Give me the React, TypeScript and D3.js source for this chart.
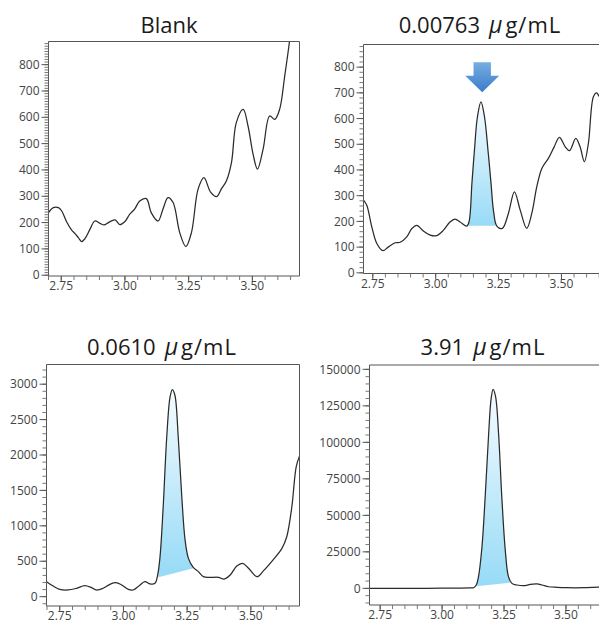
import React from 'react';
import * as d3 from 'd3';

// ---------------- data ----------------
const xTickLabels = ['2.75', '3.00', '3.25', '3.50'];

const blankTimes = [2.700, 2.719, 2.739, 2.752, 2.771, 2.791, 2.804, 2.817, 2.830, 2.843, 2.863, 2.882, 2.902, 2.918, 2.935, 2.961, 2.980, 2.999, 3.019, 3.038, 3.058, 3.084, 3.103, 3.130, 3.149, 3.169, 3.189, 3.215, 3.239, 3.261, 3.287, 3.310, 3.336, 3.360, 3.379, 3.398, 3.418, 3.437, 3.464, 3.483, 3.503, 3.520, 3.542, 3.568, 3.588, 3.607, 3.627, 3.646, 3.659];
const blankSignal = [238, 257, 257, 244, 203, 171, 158, 143, 128, 139, 175, 206, 197, 191, 200, 210, 192, 203, 232, 251, 282, 291, 238, 206, 251, 295, 276, 162, 109, 162, 327, 371, 316, 299, 329, 358, 428, 580, 630, 567, 459, 403, 478, 605, 592, 630, 757, 890, 1000];

const lowTimes = [2.713, 2.726, 2.746, 2.766, 2.790, 2.812, 2.839, 2.859, 2.885, 2.905, 2.925, 2.951, 2.978, 3.004, 3.031, 3.057, 3.077, 3.097, 3.124, 3.133, 3.144, 3.154, 3.166, 3.180, 3.194, 3.208, 3.220, 3.230, 3.243, 3.265, 3.289, 3.313, 3.336, 3.362, 3.382, 3.402, 3.422, 3.448, 3.471, 3.492, 3.515, 3.532, 3.557, 3.574, 3.591, 3.607, 3.627, 3.640, 3.652, 3.670];
const lowSignal = [283, 263, 179, 114, 86, 101, 117, 119, 140, 172, 185, 163, 147, 145, 166, 198, 209, 198, 182, 200, 348, 476, 607, 665, 607, 476, 348, 240, 182, 173, 231, 315, 244, 173, 231, 335, 406, 445, 490, 527, 490, 475, 523, 490, 432, 503, 685, 700, 685, 690];

const midTimes = [2.698, 2.724, 2.750, 2.783, 2.816, 2.848, 2.875, 2.894, 2.920, 2.947, 2.970, 2.993, 3.019, 3.038, 3.062, 3.084, 3.104, 3.124, 3.133, 3.143, 3.156, 3.170, 3.183, 3.192, 3.202, 3.215, 3.229, 3.242, 3.255, 3.274, 3.294, 3.314, 3.340, 3.373, 3.395, 3.419, 3.445, 3.468, 3.491, 3.524, 3.550, 3.589, 3.622, 3.641, 3.661, 3.678, 3.691];
const midSignal = [212, 150, 103, 94, 118, 155, 127, 94, 118, 174, 197, 165, 103, 94, 155, 212, 179, 188, 282, 540, 1270, 2257, 2821, 2924, 2844, 2257, 1410, 799, 541, 414, 353, 282, 273, 273, 249, 306, 433, 470, 400, 282, 367, 527, 682, 846, 1270, 1834, 1984];

const highTimes = [2.707, 2.800, 2.900, 3.000, 3.060, 3.110, 3.127, 3.138, 3.147, 3.161, 3.174, 3.188, 3.198, 3.206, 3.216, 3.228, 3.241, 3.255, 3.268, 3.282, 3.302, 3.329, 3.356, 3.383, 3.403, 3.430, 3.464, 3.504, 3.571, 3.637, 3.700];
const highSignal = [0, 0, 0, 100, 150, 300, 450, 2300, 8000, 28500, 62800, 106000, 130000, 136300, 131300, 106000, 62800, 26300, 8000, 3400, 2300, 1800, 2700, 3000, 2300, 1100, 700, 450, 450, 900, 1000];

const panelTitles = ['Blank', '0.00763', '0.0610', '3.91'];
const unitLabel = 'g/mL';
const microSign = 'μ';

const yTicksBlank = [0, 100, 200, 300, 400, 500, 600, 700, 800];
const yTicksLow = [0, 100, 200, 300, 400, 500, 600, 700, 800];
const yTicksMid = [0, 500, 1000, 1500, 2000, 2500, 3000];
const yTicksHigh = [0, 25000, 50000, 75000, 100000, 125000, 150000];

// integration baselines: [startTime, startSignal, endTime, endSignal]
const lowBaseline = [3.130, 183, 3.237, 183];
const midBaseline = [3.137, 275, 3.275, 400];
const highBaseline = [3.138, 1500, 3.280, 4000];
const arrowTime = 3.185;

// ---------------- layout ----------------
const layouts = [
  { left: 48.5, top: 41.5, width: 251, height: 234.5, xDomain: [2.700, 3.685], yDomain: [-3, 888], minorY: 10, titleX: 169, titleY: 33, rightFrame: true },
  { left: 363.5, top: 44.5, width: 246, height: 229, xDomain: [2.713, 3.691], yDomain: [-2.6, 888], minorY: 20, titleX: 480, titleY: 33, rightFrame: false },
  { left: 46.5, top: 364.5, width: 253, height: 241.5, xDomain: [2.698, 3.691], yDomain: [-132, 3278], minorY: 100, titleX: 162, titleY: 355, rightFrame: true },
  { left: 369.5, top: 365, width: 246, height: 240, xDomain: [2.707, 3.700], yDomain: [-11400, 152970], minorY: 5000, titleX: 483, titleY: 355, rightFrame: false },
];

const series = [
  { t: blankTimes, s: blankSignal, ticks: yTicksBlank, base: null as number[] | null },
  { t: lowTimes, s: lowSignal, ticks: yTicksLow, base: lowBaseline },
  { t: midTimes, s: midSignal, ticks: yTicksMid, base: midBaseline },
  { t: highTimes, s: highSignal, ticks: yTicksHigh, base: highBaseline },
];

const FONT = '"Open Sans", "Noto Sans", sans-serif';

function Panel({ idx }: { idx: number }) {
  const L = layouts[idx];
  const S = series[idx];
  const x = d3.scaleLinear().domain(L.xDomain).range([L.left, L.left + L.width]);
  const y = d3.scaleLinear().domain(L.yDomain).range([L.top + L.height, L.top]);
  const pts: [number, number][] = S.t.map((t, i) => [t, S.s[i]]);
  const line = d3.line<[number, number]>().x(d => x(d[0])).y(d => y(d[1])).curve(d3.curveCatmullRom.alpha(0.5));
  const area = d3.area<[number, number]>().x(d => x(d[0])).y0(L.top + L.height).y1(d => y(d[1])).curve(d3.curveCatmullRom.alpha(0.5));
  const bottom = L.top + L.height;

  const xMinor = d3.range(Math.ceil(L.xDomain[0] / 0.05 - 1e-6), Math.floor(L.xDomain[1] / 0.05 + 1e-6) + 1).map(k => k * 0.05);
  const yMinor = d3.range(Math.ceil(L.yDomain[0] / L.minorY), Math.floor(L.yDomain[1] / L.minorY) + 1).map(k => k * L.minorY);
  const clipId = `plot-${idx}`;

  let fill = null;
  let defs = null;
  if (S.base) {
    const [t0, b0, t1, b1] = S.base;
    const inPeak = pts.filter(p => p[0] >= t0 && p[0] <= t1);
    const peakMax = d3.max(inPeak, p => p[1]) as number;
    const poly = `M${x(t0)},${y(b0)}L${x(t1)},${y(b1)}L${x(t1)},${L.top - 50}L${x(t0)},${L.top - 50}Z`;
    defs = (
      <>
        <clipPath id={`peak-${idx}`}><path d={poly} /></clipPath>
        <linearGradient id={`grad-${idx}`} gradientUnits="userSpaceOnUse" x1={0} x2={0} y1={y(peakMax)} y2={y((b0 + b1) / 2)}>
          <stop offset="0" stopColor="#f6fcff" />
          <stop offset="1" stopColor="#98dbf6" />
        </linearGradient>
      </>
    );
    fill = <path d={area(pts) as string} fill={`url(#grad-${idx})`} clipPath={`url(#peak-${idx})`} />;
  }

  return (
    <g>
      <defs>
        <clipPath id={clipId}><rect x={L.left} y={L.top} width={L.width} height={L.height} /></clipPath>
        {defs}
      </defs>
      <text x={L.titleX} y={L.titleY} textAnchor="middle" fontSize={22} fontFamily={FONT} fill="#1a1a1a">
        {panelTitles[idx]}
        {idx > 0 && <tspan dx={9} fontStyle="italic" fontSize={23}>{microSign}</tspan>}
        {idx > 0 && <tspan dx={3} letterSpacing={1}>{unitLabel}</tspan>}
      </text>
      <g clipPath={`url(#${clipId})`}>
        {fill}
        <path d={line(pts) as string} fill="none" stroke="#2b2b2b" strokeWidth={1.25} />
      </g>
      {/* frame */}
      <path
        d={`M${L.left + L.width},${L.top}H${L.left}V${bottom}H${L.left + L.width}${L.rightFrame ? `V${L.top}` : ''}`}
        fill="none" stroke="#555" strokeWidth={1}
      />
      {/* y ticks */}
      {yMinor.map(v => (
        <line key={`ym${v}`} x1={L.left - 4} x2={L.left} y1={y(v)} y2={y(v)} stroke="#777" strokeWidth={1} />
      ))}
      {S.ticks.map(v => (
        <g key={`y${v}`}>
          <line x1={L.left - 7} x2={L.left} y1={y(v)} y2={y(v)} stroke="#555" strokeWidth={1} />
          <text x={L.left - 9} y={y(v)} dy="0.35em" textAnchor="end" fontSize={12} fontFamily={FONT} fill="#444">{v}</text>
        </g>
      ))}
      {/* x ticks */}
      {xMinor.map(v => (
        <line key={`xm${v.toFixed(2)}`} x1={x(v)} x2={x(v)} y1={bottom} y2={bottom + 4} stroke="#777" strokeWidth={1} />
      ))}
      {xTickLabels.map(lbl => (
        <g key={`x${lbl}`}>
          <line x1={x(+lbl)} x2={x(+lbl)} y1={bottom} y2={bottom + 6} stroke="#555" strokeWidth={1} />
          <text x={x(+lbl)} y={bottom + 14} textAnchor="middle" fontSize={12} fontFamily={FONT} fill="#444">{lbl}</text>
        </g>
      ))}
      {idx === 1 && (() => {
        const cx = x(arrowTime);
        return (
          <g>
            <defs>
              <linearGradient id="arrowGrad" x1="0" x2="0" y1="0" y2="1">
                <stop offset="0" stopColor="#76aee0" />
                <stop offset="1" stopColor="#3a7bcc" />
              </linearGradient>
            </defs>
            <path
              d={`M${cx - 8.7},62.3H${cx + 8.7}V75.7H${cx + 17}L${cx},92.3L${cx - 17},75.7H${cx - 8.7}Z`}
              fill="url(#arrowGrad)"
            />
          </g>
        );
      })()}
    </g>
  );
}

export default function App() {
  return (
    <svg width={599} height={623} style={{ position: 'absolute', left: 0, top: 0, background: '#fff' }}>
      <rect width={599} height={623} fill="#fff" />
      {layouts.map((_, i) => <Panel key={i} idx={i} />)}
    </svg>
  );
}
